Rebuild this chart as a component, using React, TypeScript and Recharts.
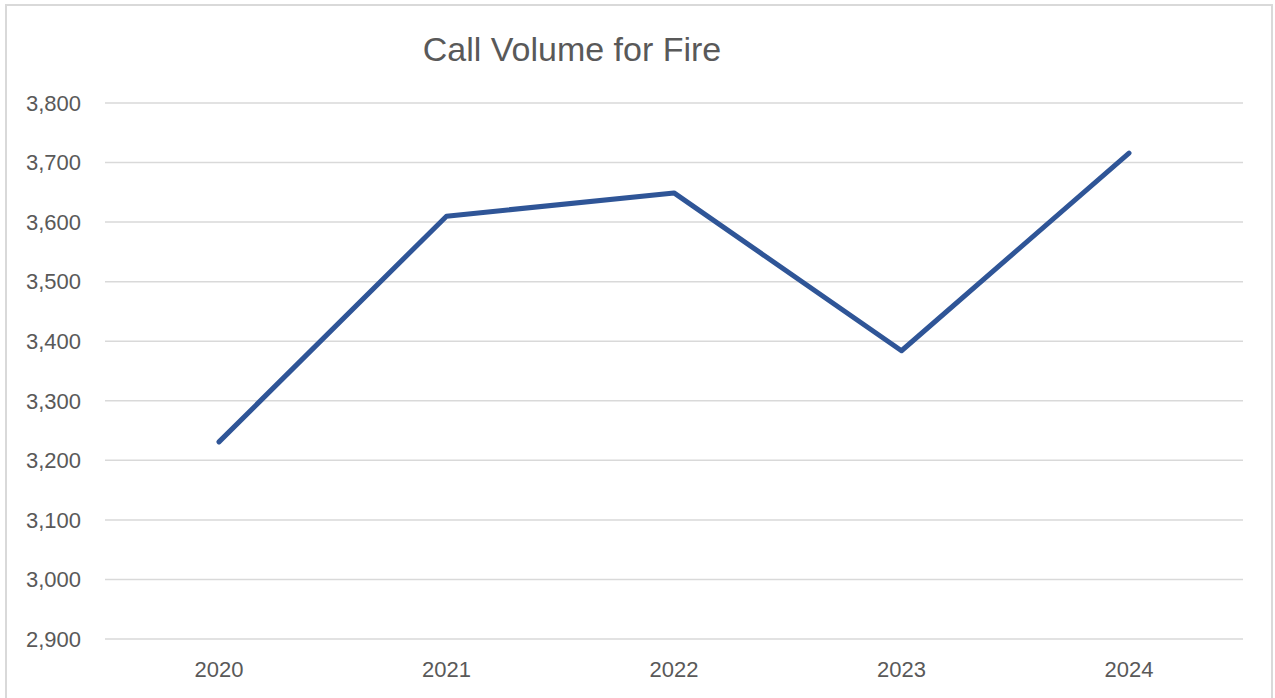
import React from "react";
import { LineChart, Line, XAxis, YAxis, CartesianGrid } from "recharts";

const years = ["2020", "2021", "2022", "2023", "2024"];
const callVolume = [3231, 3610, 3649, 3384, 3716];
const yTicks = [2900, 3000, 3100, 3200, 3300, 3400, 3500, 3600, 3700, 3800];

const data = years.map((year, i) => ({ year, calls: callVolume[i] }));

const textColor = "#595959";
const fontFamily = "'Liberation Sans', Arial, sans-serif";

export default function App() {
    return (
        <div
            style={{
                position: "absolute",
                left: 5,
                top: 4,
                width: 1268,
                height: 700,
                border: "2px solid #d9d9d9",
                boxSizing: "border-box",
                background: "#fff",
                fontFamily,
            }}
        >
            {/* chart title */}
            <div
                style={{
                    position: "absolute",
                    left: 0,
                    width: 1130,
                    top: 23,
                    textAlign: "center",
                    fontSize: 34,
                    color: textColor,
                    lineHeight: "40px",
                }}
            >
                Call Volume for Fire
            </div>
            <div style={{ position: "absolute", left: -2, top: -2 }}>
                <LineChart
                    width={1268}
                    height={694}
                    data={data}
                    margin={{ top: 99, right: 30, left: 0, bottom: 0 }}
                >
                    <CartesianGrid vertical={false} stroke="#d9d9d9" strokeWidth={1.5} />
                    <XAxis
                        dataKey="year"
                        axisLine={false}
                        tickLine={false}
                        height={59}
                        tickMargin={16}
                        padding={{ left: 114, right: 114 }}
                        tick={{ fill: textColor, fontSize: 22, fontFamily }}
                    />
                    <YAxis
                        domain={[2900, 3800]}
                        ticks={yTicks}
                        axisLine={false}
                        tickLine={false}
                        width={100}
                        tickMargin={18}
                        tick={{ fill: textColor, fontSize: 22, fontFamily }}
                        tickFormatter={(v) => v.toLocaleString("en-US")}
                    />
                    <Line
                        type="linear"
                        dataKey="calls"
                        stroke="#2F5597"
                        strokeWidth={5}
                        strokeLinecap="round"
                        strokeLinejoin="round"
                        dot={false}
                        isAnimationActive={false}
                    />
                </LineChart>
            </div>
        </div>
    );
}
